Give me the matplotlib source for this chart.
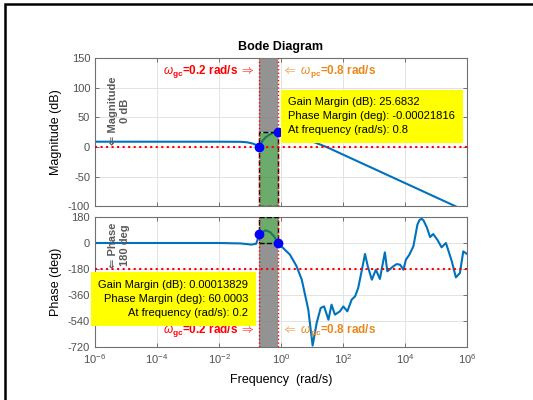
import numpy as np
import matplotlib
matplotlib.use("Agg")
import matplotlib.pyplot as plt
from matplotlib.patches import Rectangle

plt.rcParams["font.family"] = ["Liberation Sans", "DejaVu Sans"]
plt.rcParams["mathtext.fontset"] = "custom"
plt.rcParams["mathtext.rm"] = "Liberation Sans"
plt.rcParams["mathtext.it"] = "Liberation Sans:italic"
plt.rcParams["mathtext.bf"] = "Liberation Sans:bold"
plt.rcParams["axes.unicode_minus"] = False

# magnitude response (rad/s, dB)
mag_w = [1e-6, 1e-2, 0.05, 0.08, 0.12, 0.16, 0.2, 0.25, 0.32, 0.45, 0.6, 0.8,
         1.5, 3, 6, 10.7, 29.5, 1e3, 1e5, 1e6]
mag_db = [9, 9, 8.8, 8, 6, 3.5, 0, 10, 16.5, 21.5, 24.3, 25.68,
          22, 17, 12.5, 9, 0, -36.7, -84.7, -108.7]

# phase response (log10 rad/s, deg)
phase_logw = [-6, -2, -1.3, -0.95, -0.8, -0.699, -0.5, -0.35, -0.22, -0.097,
              0.29, 0.5, 0.67, 0.88, 1.02, 1.15, 1.28, 1.39, 1.53, 1.63,
              1.74, 1.90, 2.01, 2.14, 2.28, 2.39, 2.49, 2.60, 2.71, 2.80,
              2.93, 3.06, 3.19, 3.35, 3.43, 3.62, 3.73, 3.84, 3.95, 4.03,
              4.14, 4.27, 4.40, 4.47, 4.54, 4.60, 4.70, 4.81, 4.91, 5.05,
              5.18, 5.32, 5.51, 5.64, 5.77, 5.88, 6.0]
phase_deg = [0, 0, -3, -11, -5, 60, 88, 75, 45, 0,
             -81, -160, -254, -461, -710, -554, -450, -439, -531, -427,
             -496, -473, -439, -473, -392, -369, -311, -196, -76, -162,
             -254, -185, -249, -65, -196, -162, -146, -150, -185, -115,
             -81, -23, 127, 160, 168, 155, 110, 41, 62, 20,
             -30, 0, -127, -238, -208, -58, -76]

# stability margins
w_gc = 0.2
w_pc = 0.8
gain_at_pc = 25.6832
phase_at_gc = 60.0003
top_note = ("Gain Margin (dB): 25.6832\n"
            "Phase Margin (deg): -0.00021816\n"
            "At frequency (rad/s): 0.8")
bottom_note = ("Gain Margin (dB): 0.00013829\n"
               "Phase Margin (deg): 60.0003\n"
               "At frequency (rad/s): 0.2")

xticks = [1e-6, 1e-4, 1e-2, 1e0, 1e2, 1e4, 1e6]
mag_ticks = [-100, -50, 0, 50, 100, 150]
phase_ticks = [-720, -540, -360, -180, 0, 180]

line_c = "#0072BD"
green = (0.14, 0.51, 0.14, 0.67)
gray = (0.50, 0.50, 0.50, 0.85)
orange = "#E8891E"
tick_c = "#505050"

fig = plt.figure(figsize=(5.33, 4.0), dpi=100)
ax1 = fig.add_axes([0.1782, 0.484, 0.698, 0.371])
ax2 = fig.add_axes([0.1782, 0.1325, 0.698, 0.325])

# frame around the figure (left and top edges show)
fig.add_artist(Rectangle((5 / 533, -0.1), 1.2, 1.1 - 4 / 400, transform=fig.transFigure,
                         fill=False, edgecolor="black", lw=1.8))

phase_w = 10 ** np.array(phase_logw)

ax1.plot(mag_w, mag_db, color=line_c, lw=1.5, zorder=2)
ax2.plot(phase_w, phase_deg, color=line_c, lw=1.5, zorder=2)

for ax in (ax1, ax2):
    ax.set_xscale("log")
    ax.set_xlim(1e-6, 1e6)
    ax.set_xticks(xticks)
    ax.minorticks_off()
    ax.grid(True, color="#e3e3e3", lw=0.7, zorder=0)
    ax.set_axisbelow(True)
    ax.tick_params(direction="in", length=3, top=True, right=True,
                   labelsize=8, colors="#707070", labelcolor=tick_c, width=0.7)
    for s in ax.spines.values():
        s.set_color("#707070")
        s.set_linewidth(0.8)
    ax.axvline(w_gc, color="red", ls=":", lw=1, zorder=4)
    ax.axvline(w_pc, color="red", ls=":", lw=1, zorder=4)

ax1.set_ylim(-100, 150)
ax1.set_yticks(mag_ticks)
ax1.tick_params(labelbottom=False)
ax2.set_ylim(-720, 180)
ax2.set_yticks(phase_ticks)

ax1.axhline(0, color="red", ls=":", lw=1.5, zorder=4)
ax2.axhline(-180, color="red", ls=":", lw=1.5, zorder=4)

# margin regions
ax1.add_patch(Rectangle((w_gc, gain_at_pc), w_pc - w_gc, 150 - gain_at_pc,
                        facecolor=gray, edgecolor="none", zorder=3))
ax1.add_patch(Rectangle((w_gc, -100), w_pc - w_gc, gain_at_pc + 100,
                        facecolor=green, edgecolor="black", ls="--", lw=1, zorder=3))
ax2.add_patch(Rectangle((w_gc, -720), w_pc - w_gc, 720,
                        facecolor=gray, edgecolor="none", zorder=3))
ax2.add_patch(Rectangle((w_gc, 0), w_pc - w_gc, 180,
                        facecolor=green, edgecolor="black", ls="--", lw=1, zorder=3))

ax1.plot([w_gc, w_pc], [0, gain_at_pc], "o", color="blue", ms=6, zorder=5)
ax2.plot([w_gc, w_pc], [phase_at_gc, 0], "o", color="blue", ms=6, zorder=5)

# crossover labels
gc_txt = r"$\omega_{\mathbf{gc}}$=0.2 rad/s $\Rightarrow$"
pc_txt = r"$\Leftarrow$ $\omega_{\mathbf{pc}}$=0.8 rad/s"
for ax, yv in ((ax1, 127), (ax2, -608)):
    ax.annotate(gc_txt, (w_gc, yv), xytext=(-3, 0), textcoords="offset points",
                ha="right", va="center", color="red", fontsize=8.5,
                fontweight="bold", zorder=6)
    ax.annotate(pc_txt, (w_pc, yv), xytext=(3, 0), textcoords="offset points",
                ha="left", va="center", color=orange, fontsize=8.5,
                fontweight="bold", zorder=6)

ax1.text(5.9e-6, 3, "⇐ Magnitude\n0 dB", rotation=90, ha="center", va="bottom",
         multialignment="center", color="#5a5a5a", fontsize=8, fontweight="bold",
         zorder=6, clip_on=False)
ax2.text(5.9e-6, -172, "⇐ Phase\n180 deg", rotation=90, ha="center", va="bottom",
         multialignment="center", color="#5a5a5a", fontsize=8, fontweight="bold",
         zorder=6, clip_on=False)

box = dict(boxstyle="square,pad=0.7", facecolor="yellow", edgecolor="none")
ax1.text(1.72, 51.6, top_note, ha="left", va="center", fontsize=8,
         linespacing=1.5, bbox=box, zorder=7, clip_on=False)
ax2.text(0.088, -386, bottom_note, ha="right", va="center", multialignment="right",
         fontsize=8, linespacing=1.5, bbox=box, zorder=7, clip_on=False)

ax1.set_title("Bode Diagram", fontsize=9, fontweight="bold", pad=6)
ax1.set_ylabel("Magnitude (dB)", fontsize=9, labelpad=4)
ax2.set_ylabel("Phase (deg)", fontsize=9, labelpad=4)
ax2.set_xlabel("Frequency  (rad/s)", fontsize=9, labelpad=6)

fig.savefig("out.png", dpi=100)
